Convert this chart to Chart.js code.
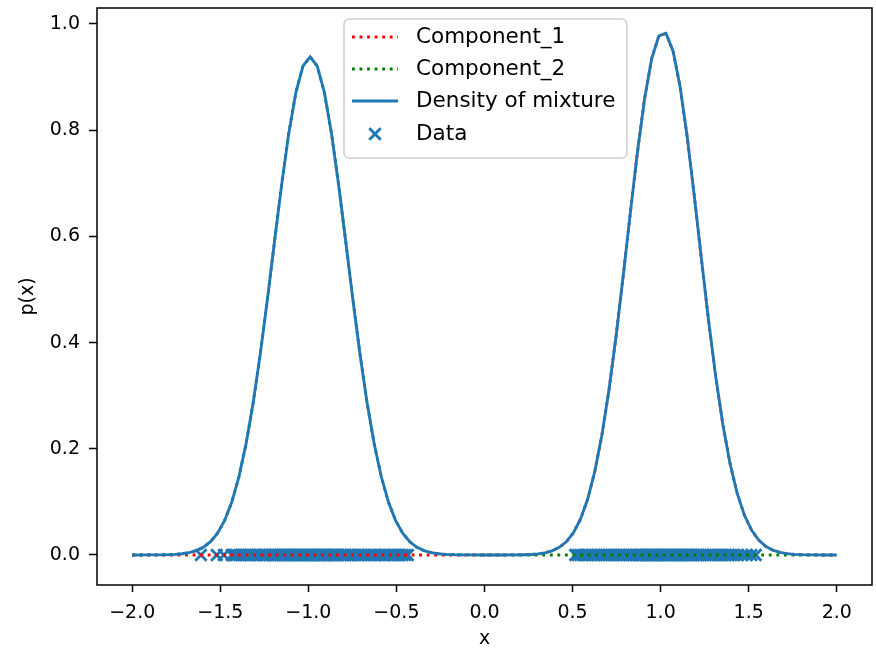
<!DOCTYPE html>
<html>
<head>
<meta charset="utf-8">
<title>Density of mixture</title>
<script src="https://cdn.jsdelivr.net/npm/chart.js@4.4.1/dist/chart.umd.min.js"></script>
<style>
  html, body { margin: 0; padding: 0; background: #fff; overflow: hidden; }
  #wrap { width: 876px; height: 649px; overflow: hidden; }
  #mixChart { display: block; }
</style>
</head>
<body>
<div id="wrap"><canvas id="mixChart" width="876" height="649"></canvas></div>
<script>
// sample grid, -2 .. 2 (100 points)
const gridX = [
  -2.0000, -1.9596, -1.9192, -1.8788, -1.8384, -1.7980, -1.7576, -1.7172, -1.6768, -1.6364,
  -1.5960, -1.5556, -1.5152, -1.4747, -1.4343, -1.3939, -1.3535, -1.3131, -1.2727, -1.2323,
  -1.1919, -1.1515, -1.1111, -1.0707, -1.0303, -0.9899, -0.9495, -0.9091, -0.8687, -0.8283,
  -0.7879, -0.7475, -0.7071, -0.6667, -0.6263, -0.5859, -0.5455, -0.5051, -0.4646, -0.4242,
  -0.3838, -0.3434, -0.3030, -0.2626, -0.2222, -0.1818, -0.1414, -0.1010, -0.0606, -0.0202,
  0.0202, 0.0606, 0.1010, 0.1414, 0.1818, 0.2222, 0.2626, 0.3030, 0.3434, 0.3838,
  0.4242, 0.4646, 0.5051, 0.5455, 0.5859, 0.6263, 0.6667, 0.7071, 0.7475, 0.7879,
  0.8283, 0.8687, 0.9091, 0.9495, 0.9899, 1.0303, 1.0707, 1.1111, 1.1515, 1.1919,
  1.2323, 1.2727, 1.3131, 1.3535, 1.3939, 1.4343, 1.4747, 1.5152, 1.5556, 1.5960,
  1.6364, 1.6768, 1.7172, 1.7576, 1.7980, 1.8384, 1.8788, 1.9192, 1.9596, 2.0000
];

// Component_1 (red): the bump near +1
const component1 = [
  0, 0, 0, 0, 0, 0, 0, 0, 0, 0,
  0, 0, 0, 0, 0, 0, 0, 0, 0, 0,
  0, 0, 0, 0, 0, 0, 0, 0, 0, 0,
  0, 0, 0, 0, 0, 0, 0, 0, 0, 0,
  0, 0, 0, 0, 0, 0, 0, 0, 0, 0,
  0, 0, 0, 0.0001, 0.0002, 0.0005, 0.0010, 0.0021, 0.0041, 0.0078,
  0.0143, 0.0249, 0.0420, 0.0679, 0.1054, 0.1575, 0.2260, 0.3117, 0.4133, 0.5268,
  0.6452, 0.7597, 0.8597, 0.9350, 0.9775, 0.9822, 0.9486, 0.8806, 0.7857, 0.6737,
  0.5553, 0.4400, 0.3350, 0.2452, 0.1725, 0.1166, 0.0758, 0.0473, 0.0284, 0.0164,
  0.0091, 0.0048, 0.0025, 0.0012, 0.0006, 0.0003, 0.0001, 0, 0, 0
];

// Component_2 (green): the bump near -1
const component2 = [
  0, 0, 0.0001, 0.0001, 0.0003, 0.0006, 0.0012, 0.0023, 0.0045, 0.0082,
  0.0146, 0.0250, 0.0411, 0.0654, 0.1001, 0.1475, 0.2097, 0.2871, 0.3791, 0.4820,
  0.5909, 0.6979, 0.7943, 0.8712, 0.9209, 0.9380, 0.9207, 0.8709, 0.7939, 0.6973,
  0.5903, 0.4815, 0.3786, 0.2867, 0.2093, 0.1473, 0.0998, 0.0652, 0.0410, 0.0249,
  0.0145, 0.0082, 0.0045, 0.0023, 0.0012, 0.0006, 0.0003, 0.0001, 0.0001, 0,
  0, 0, 0, 0, 0, 0, 0, 0, 0, 0,
  0, 0, 0, 0, 0, 0, 0, 0, 0, 0,
  0, 0, 0, 0, 0, 0, 0, 0, 0, 0,
  0, 0, 0, 0, 0, 0, 0, 0, 0, 0,
  0, 0, 0, 0, 0, 0, 0, 0, 0, 0
];

const mixture = [
  0, 0, 0.0001, 0.0001, 0.0003, 0.0006, 0.0012, 0.0023, 0.0045, 0.0082,
  0.0146, 0.0250, 0.0411, 0.0654, 0.1001, 0.1475, 0.2097, 0.2871, 0.3791, 0.4820,
  0.5909, 0.6979, 0.7943, 0.8712, 0.9209, 0.9380, 0.9207, 0.8709, 0.7939, 0.6973,
  0.5903, 0.4815, 0.3786, 0.2867, 0.2093, 0.1473, 0.0998, 0.0652, 0.0410, 0.0249,
  0.0145, 0.0082, 0.0045, 0.0023, 0.0012, 0.0006, 0.0003, 0.0001, 0.0001, 0,
  0, 0, 0, 0.0001, 0.0002, 0.0005, 0.0010, 0.0021, 0.0041, 0.0078,
  0.0143, 0.0249, 0.0420, 0.0679, 0.1054, 0.1575, 0.2260, 0.3117, 0.4133, 0.5268,
  0.6452, 0.7597, 0.8597, 0.9350, 0.9775, 0.9822, 0.9486, 0.8806, 0.7857, 0.6737,
  0.5553, 0.4400, 0.3350, 0.2452, 0.1725, 0.1166, 0.0758, 0.0473, 0.0284, 0.0164,
  0.0091, 0.0048, 0.0025, 0.0012, 0.0006, 0.0003, 0.0001, 0, 0, 0
];

// observed samples (all drawn at p = 0)
const samplesLeft = [
  -1.61, -1.52, -1.48, -1.435, -1.42, -1.41, -1.395, -1.38, -1.37, -1.355,
  -1.34, -1.33, -1.315, -1.30, -1.29, -1.275, -1.26, -1.25, -1.24, -1.225,
  -1.21, -1.20, -1.19, -1.18, -1.17, -1.16, -1.15, -1.14, -1.13, -1.12,
  -1.11, -1.10, -1.09, -1.08, -1.07, -1.06, -1.05, -1.04, -1.03, -1.02,
  -1.01, -1.00, -0.99, -0.98, -0.97, -0.96, -0.95, -0.94, -0.93, -0.92,
  -0.91, -0.90, -0.89, -0.88, -0.87, -0.86, -0.85, -0.84, -0.83, -0.815,
  -0.80, -0.79, -0.775, -0.76, -0.75, -0.735, -0.72, -0.71, -0.695, -0.68,
  -0.66, -0.645, -0.63, -0.615, -0.60, -0.585, -0.57, -0.56, -0.54, -0.525,
  -0.51, -0.495, -0.48, -0.465, -0.45, -0.435
];
const samplesRight = [
  0.515, 0.53, 0.545, 0.56, 0.575, 0.59, 0.61, 0.625, 0.64, 0.655,
  0.675, 0.69, 0.705, 0.72, 0.735, 0.75, 0.765, 0.78, 0.79, 0.805,
  0.82, 0.83, 0.845, 0.86, 0.87, 0.88, 0.89, 0.90, 0.91, 0.92,
  0.93, 0.94, 0.95, 0.96, 0.97, 0.98, 0.99, 1.00, 1.01, 1.02,
  1.03, 1.04, 1.05, 1.06, 1.07, 1.08, 1.09, 1.10, 1.11, 1.12,
  1.13, 1.14, 1.15, 1.16, 1.17, 1.18, 1.19, 1.205, 1.215, 1.23,
  1.24, 1.255, 1.27, 1.28, 1.295, 1.31, 1.325, 1.34, 1.355, 1.37,
  1.385, 1.40, 1.42, 1.44, 1.465, 1.49, 1.515, 1.54
];

const xTicks = [-2.0, -1.5, -1.0, -0.5, 0.0, 0.5, 1.0, 1.5, 2.0];
const yTicks = [0.0, 0.2, 0.4, 0.6, 0.8, 1.0];

const BLUE = '#1f77b4';
const FAMILY = "'DejaVu Sans', sans-serif";
const FONT = { family: FAMILY, size: 19 };
const LEGEND_SIZE = 21.5;
const LW = 2.85;
const DOTS = [2.85, 4.7];

function fmtTick(v) {
  return (v < 0 ? '\u2212' : '') + Math.abs(v).toFixed(1);
}

function toPoints(ys) {
  return gridX.map(function(x, i) { return { x: x, y: ys[i] }; });
}

// keep the plot box exactly where the original puts it
function noOverflow(scale) {
  scale.paddingLeft = 0;
  scale.paddingRight = 0;
  scale.paddingTop = 0;
  scale.paddingBottom = 0;
}

const samplePoints = samplesLeft.concat(samplesRight).map(function(x) { return { x: x, y: 0 }; });

// matplotlib-like frame around the axes
const framePlugin = {
  id: 'frame',
  afterDatasetsDraw(chart) {
    const a = chart.chartArea;
    const ctx = chart.ctx;
    ctx.save();
    ctx.strokeStyle = '#000';
    ctx.lineWidth = 1.5;
    ctx.strokeRect(a.left, a.top, a.right - a.left, a.bottom - a.top);
    ctx.restore();
  }
};

// legend box drawn in the upper centre, like the original
const legendPlugin = {
  id: 'boxLegend',
  afterDraw(chart) {
    const ctx = chart.ctx;
    const box = { x: 344, y: 19, w: 283, h: 139, r: 5 };
    ctx.save();
    ctx.beginPath();
    ctx.roundRect(box.x, box.y, box.w, box.h, box.r);
    ctx.fillStyle = 'rgba(255,255,255,0.8)';
    ctx.fill();
    ctx.strokeStyle = '#d0d0d0';
    ctx.lineWidth = 1.5;
    ctx.stroke();

    const rows = [
      { label: 'Component_1', kind: 'dot', color: '#ff0000', y: 37 },
      { label: 'Component_2', kind: 'dot', color: '#008000', y: 69 },
      { label: 'Density of mixture', kind: 'line', color: BLUE, y: 101 },
      { label: 'Data', kind: 'x', color: BLUE, y: 134 }
    ];
    rows.forEach(function(r) {
      ctx.strokeStyle = r.color;
      ctx.lineWidth = LW;
      ctx.lineCap = 'butt';
      if (r.kind === 'x') {
        const s = 5.7;
        ctx.setLineDash([]);
        ctx.beginPath();
        ctx.moveTo(375 - s, r.y - s); ctx.lineTo(375 + s, r.y + s);
        ctx.moveTo(375 - s, r.y + s); ctx.lineTo(375 + s, r.y - s);
        ctx.stroke();
      } else {
        ctx.setLineDash(r.kind === 'dot' ? DOTS : []);
        ctx.beginPath();
        ctx.moveTo(352, r.y);
        ctx.lineTo(398, r.y);
        ctx.stroke();
      }
      ctx.setLineDash([]);
      ctx.fillStyle = '#000';
      ctx.font = LEGEND_SIZE + 'px ' + FAMILY;
      ctx.textBaseline = 'middle';
      ctx.textAlign = 'left';
      ctx.fillText(r.label, 416, r.y);
    });
    ctx.restore();
  }
};

const mixChart = new Chart(document.getElementById('mixChart'), {
  type: 'line',
  data: {
    datasets: [{
      label: 'Component_1',
      data: toPoints(component1),
      borderColor: '#ff0000',
      borderWidth: LW,
      borderDash: DOTS,
      borderCapStyle: 'butt',
      pointRadius: 0,
      fill: false,
      order: 2
    }, {
      label: 'Component_2',
      data: toPoints(component2),
      borderColor: '#008000',
      borderWidth: LW,
      borderDash: DOTS,
      borderCapStyle: 'butt',
      pointRadius: 0,
      fill: false,
      order: 1
    }, {
      label: 'Density of mixture',
      data: toPoints(mixture),
      borderColor: BLUE,
      borderWidth: LW,
      pointRadius: 0,
      fill: false,
      order: 0
    }, {
      type: 'scatter',
      label: 'Data',
      data: samplePoints,
      showLine: false,
      pointStyle: 'crossRot',
      pointRadius: 8,
      pointHoverRadius: 8,
      pointBorderWidth: LW,
      pointBorderColor: BLUE,
      pointBackgroundColor: BLUE,
      order: 3
    }]
  },
  options: {
    responsive: false,
    animation: false,
    devicePixelRatio: 1,
    layout: { autoPadding: false, padding: { top: 8, right: 4, left: 0, bottom: 0 } },
    plugins: {
      legend: { display: false },
      tooltip: { enabled: false }
    },
    scales: {
      x: {
        type: 'linear',
        min: -2.2,
        max: 2.2,
        afterBuildTicks: function(scale) {
          scale.ticks = xTicks.map(function(v) { return { value: v }; });
        },
        afterFit: function(scale) { scale.height = 64; noOverflow(scale); },
        ticks: {
          font: FONT,
          color: '#000',
          padding: 9.5,
          maxRotation: 0,
          autoSkip: false,
          callback: fmtTick
        },
        grid: {
          drawOnChartArea: false,
          drawTicks: true,
          tickLength: 7,
          tickWidth: 1.5,
          tickColor: '#000'
        },
        border: { display: false },
        title: {
          display: true,
          text: 'x',
          color: '#000',
          font: { family: FAMILY, size: 19, lineHeight: 1 },
          padding: { top: 0, bottom: 0 }
        }
      },
      y: {
        type: 'linear',
        min: -0.0565,
        max: 1.03,
        afterBuildTicks: function(scale) {
          scale.ticks = yTicks.map(function(v) { return { value: v }; });
        },
        afterFit: function(scale) { scale.width = 97; noOverflow(scale); },
        ticks: {
          font: FONT,
          color: '#000',
          padding: 9,
          autoSkip: false,
          callback: fmtTick
        },
        grid: {
          drawOnChartArea: false,
          drawTicks: true,
          tickLength: 8,
          tickWidth: 1.5,
          tickColor: '#000'
        },
        border: { display: false },
        title: {
          display: true,
          text: 'p(x)',
          color: '#000',
          font: { family: FAMILY, size: 19, lineHeight: 1 },
          padding: { top: 18.5, bottom: 0 }
        }
      }
    }
  },
  plugins: [framePlugin, legendPlugin]
});
</script>
</body>
</html>
